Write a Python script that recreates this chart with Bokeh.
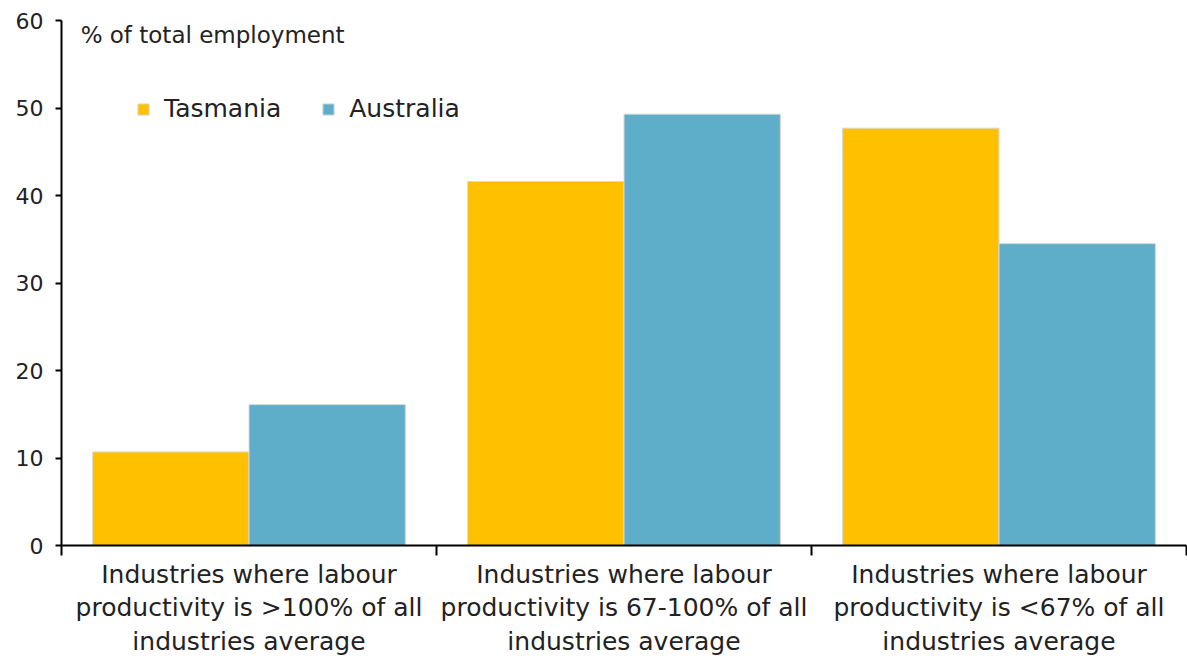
from bokeh.plotting import figure
from bokeh.models import ColumnDataSource, FixedTicker, Range1d, Legend, LegendItem, Label
from bokeh.transform import dodge
from bokeh.embed import file_html
from bokeh.resources import INLINE

categories = [
    "Industries where labour\nproductivity is >100% of all\nindustries average",
    "Industries where labour\nproductivity is 67-100% of all\nindustries average",
    "Industries where labour\nproductivity is <67% of all\nindustries average",
]
tasmania = [10.7, 41.6, 47.7]
australia = [16.1, 49.3, 34.5]
y_ticks = [0, 10, 20, 30, 40, 50, 60]

FONT = "DejaVu Sans"
TXT = "#222222"

centers = [i + 0.5 for i in range(len(categories))]
src = ColumnDataSource(dict(x=centers, tas=tasmania, aus=australia))

p = figure(width=1187, height=659, output_backend="svg", toolbar_location=None,
           x_range=Range1d(0, 3), y_range=Range1d(0, 60),
           min_border_left=61, min_border_top=20, min_border_bottom=114, min_border_right=1)

bw = 0.417
r1 = p.vbar(x=dodge("x", -bw / 2), top="tas", width=bw, source=src,
            fill_color="#FFC000", line_color="#d9d9d9", line_width=1)
r2 = p.vbar(x=dodge("x", bw / 2), top="aus", width=bw, source=src,
            fill_color="#5EADC9", line_color="#d9d9d9", line_width=1)

p.xgrid.visible = False
p.ygrid.visible = False
p.outline_line_color = None

xa = p.xaxis[0]
xa.ticker = FixedTicker(ticks=centers, minor_ticks=[0, 1, 2, 3])
xa.major_label_overrides = {c: lab for c, lab in zip(centers, categories)}
xa.major_tick_line_color = None
xa.major_tick_in = 0
xa.major_tick_out = 0
xa.minor_tick_in = 0
xa.minor_tick_out = 10
xa.minor_tick_line_color = "black"
xa.minor_tick_line_width = 2
xa.axis_line_color = "black"
xa.axis_line_width = 2
xa.major_label_text_font = FONT
xa.major_label_text_font_size = "25px"
xa.major_label_text_color = TXT
xa.major_label_text_line_height = 1.17
xa.major_label_standoff = 4

ya = p.yaxis[0]
ya.ticker = FixedTicker(ticks=y_ticks)
ya.minor_tick_line_color = None
ya.major_tick_in = 0
ya.major_tick_out = 6
ya.major_tick_line_color = "black"
ya.major_tick_line_width = 2
ya.axis_line_color = "black"
ya.axis_line_width = 2
ya.major_label_text_font = FONT
ya.major_label_text_font_size = "22px"
ya.major_label_text_color = TXT
ya.major_label_standoff = 12

legend = Legend(items=[LegendItem(label="Tasmania", renderers=[r1]),
                       LegendItem(label="Australia", renderers=[r2])],
                orientation="horizontal", location=(75, 422),
                background_fill_alpha=0, border_line_color=None,
                label_text_font=FONT, label_text_font_size="25px", label_text_color=TXT,
                glyph_width=14, glyph_height=14, label_standoff=14, spacing=40,
                padding=0, margin=0)
p.add_layout(legend)

p.add_layout(Label(x=0.051, y=58.3, text="% of total employment", text_font=FONT,
                   text_font_size="23px", text_color=TXT, text_baseline="middle"))

open("out.html", "w").write(file_html(p, INLINE))
